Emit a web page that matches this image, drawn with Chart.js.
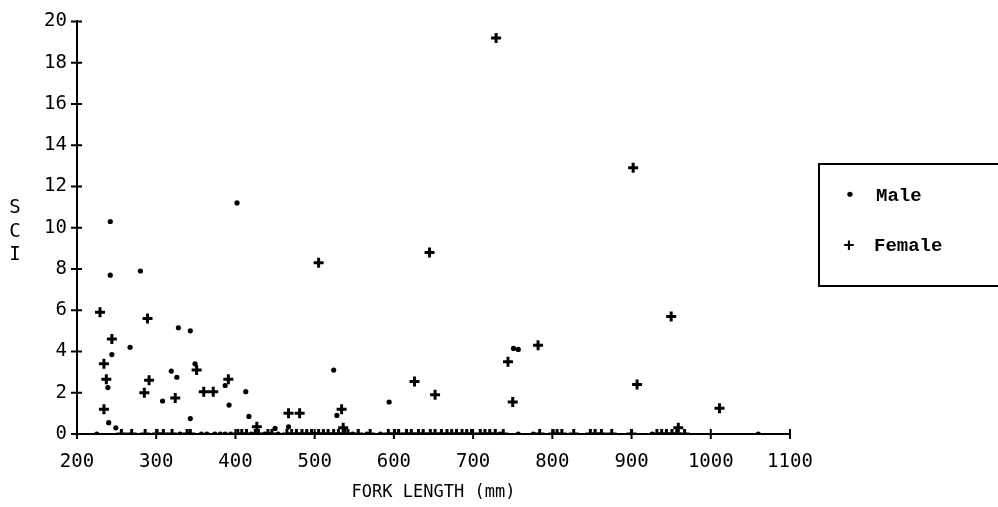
<!DOCTYPE html>
<html>
<head>
<meta charset="utf-8">
<script src="https://cdn.jsdelivr.net/npm/chart.js@4/dist/chart.umd.min.js"></script>
<style>
  html, body { margin: 0; padding: 0; background: #fff; overflow: hidden; }
  #wrap { position: relative; width: 998px; height: 507px; }
  #yTitle { position: absolute; left: 7px; top: 195px; width: 16px; font: 19px 'DejaVu Sans Mono', monospace; line-height: 23.5px; text-align: center; color: #000; }
  #legend { position: absolute; left: 818px; top: 163px; width: 200px; height: 120px; border: 2px solid #000; font: bold 19px 'Liberation Mono', monospace; color: #000; }
  .li { position: absolute; left: 0; height: 24px; line-height: 24px; }
  .mk { position: absolute; width: 12px; text-align: center; }
  .tx { position: absolute; }
</style>
</head>
<body>
<div id="wrap">
  <canvas id="c" width="998" height="507"></canvas>
  <div id="yTitle">S<br>C<br>I</div>
  <div id="legend">
    <div class="li" style="top:19px"><span class="mk" style="left:24px;">•</span><span class="tx" style="left:56px;">Male</span></div>
    <div class="li" style="top:69px"><span class="mk" style="left:23px;">+</span><span class="tx" style="left:54px;">Female</span></div>
  </div>
</div>
<script>
// ---- data ----
const maleLength = [242, 242, 280, 328, 343, 267, 244, 349, 319, 326, 239, 308, 387, 413, 392, 417, 343, 240, 249, 450, 467, 524, 528, 594, 751, 757, 402,
  225, 330, 357, 364, 374, 381, 387, 394, 420, 437, 454, 500, 548, 566, 583, 734, 757, 776, 926, 1060];
const maleSCI = [10.3, 7.7, 7.9, 5.15, 5.0, 4.2, 3.85, 3.4, 3.05, 2.75, 2.25, 1.6, 2.35, 2.05, 1.4, 0.85, 0.75, 0.55, 0.3, 0.27, 0.35, 3.1, 0.9, 1.55, 4.15, 4.1, 11.2,
  0, 0, 0, 0, 0, 0, 0, 0, 0, 0, 0, 0, 0, 0, 0, 0, 0, 0, 0, 0];
const femaleLength = [229, 289, 244, 234, 351, 237, 291, 285, 324, 360, 372, 391, 234, 427, 467, 481, 534, 536, 626, 652, 744, 782, 750, 907, 950, 1011, 959, 645, 505, 729, 902,
  256, 269, 286, 301, 309, 320, 339, 343, 403, 408, 414, 425, 429, 441, 446, 465, 471, 477, 484, 490, 496, 505, 511, 517, 524, 530, 538, 542, 555, 570, 593, 601, 606, 616, 622, 631, 637, 646, 652, 660, 667, 673, 679, 686, 692, 698, 709, 715, 721, 728, 738, 784, 801, 806, 812, 827, 848, 854, 862, 875, 900, 932, 938, 944, 951, 957, 967, 998];
const femaleSCI = [5.9, 5.6, 4.6, 3.4, 3.1, 2.65, 2.6, 2.0, 1.75, 2.05, 2.05, 2.65, 1.2, 0.35, 1.0, 1.0, 1.2, 0.3, 2.55, 1.9, 3.5, 4.3, 1.55, 2.4, 5.7, 1.25, 0.3, 8.8, 8.3, 19.2, 12.9,
  0, 0, 0, 0, 0, 0, 0, 0, 0, 0, 0, 0, 0, 0, 0, 0, 0, 0, 0, 0, 0, 0, 0, 0, 0, 0, 0, 0, 0, 0, 0, 0, 0, 0, 0, 0, 0, 0, 0, 0, 0, 0, 0, 0, 0, 0, 0, 0, 0, 0, 0, 0, 0, 0, 0, 0, 0, 0, 0, 0, 0, 0, 0, 0, 0, 0, 0];
const xTickValues = [200, 300, 400, 500, 600, 700, 800, 900, 1000, 1100];
const yTickValues = [0, 2, 4, 6, 8, 10, 12, 14, 16, 18, 20];
const xTitle = 'FORK LENGTH (mm)';

const toPts = (xs, ys) => xs.map((x, i) => ({ x: x, y: ys[i] }));

const crossTicks = {
  id: 'crossTicks',
  afterDraw(chart) {
    const ctx = chart.ctx, xs = chart.scales.x, ys = chart.scales.y;
    const ax = xs.getPixelForValue(200), ay = ys.getPixelForValue(0);
    ctx.save();
    ctx.strokeStyle = '#000';
    ctx.lineWidth = 2;
    ctx.beginPath();
    yTickValues.forEach(v => { const p = ys.getPixelForValue(v); ctx.moveTo(ax - 6, p); ctx.lineTo(ax + 5, p); });
    xTickValues.forEach(v => { const p = xs.getPixelForValue(v); ctx.moveTo(p, ay - 5); ctx.lineTo(p, ay + 5); });
    ctx.stroke();
    ctx.restore();
  }
};

new Chart(document.getElementById('c'), {
  type: 'scatter',
  data: {
    datasets: [
      { label: 'Male', data: toPts(maleLength, maleSCI), pointStyle: 'circle', pointRadius: 2.6, backgroundColor: '#000', borderColor: '#000', borderWidth: 0 },
      { label: 'Female', data: toPts(femaleLength, femaleSCI), pointStyle: 'cross', pointRadius: 5, borderColor: '#000', borderWidth: 3 }
    ]
  },
  options: {
    responsive: false,
    animation: false,
    events: [],
    layout: { padding: { top: 17, right: 208, left: 0, bottom: 0 } },
    plugins: { legend: { display: false }, tooltip: { enabled: false } },
    scales: {
      x: {
        type: 'linear', min: 200, max: 1100,
        afterBuildTicks: s => { s.ticks = xTickValues.map(v => ({ value: v })); },
        afterFit: s => { s.height = 73; },
        grid: { display: true, drawOnChartArea: false, drawTicks: false },
        border: { display: true, color: '#000', width: 2 },
        ticks: { color: '#000', padding: 17, maxRotation: 0, callback: v => String(v), font: { family: 'DejaVu Sans Mono', size: 19 } },
        title: { display: true, text: xTitle, color: '#000', font: { family: 'DejaVu Sans Mono', size: 17 }, padding: { top: 0, bottom: 4 } }
      },
      y: {
        type: 'linear', min: 0, max: 20,
        afterBuildTicks: s => { s.ticks = yTickValues.map(v => ({ value: v })); },
        afterFit: s => { s.width = 77; },
        grid: { display: true, drawOnChartArea: false, drawTicks: false },
        border: { display: true, color: '#000', width: 2 },
        ticks: { color: '#000', padding: 10, callback: v => String(v), font: { family: 'DejaVu Sans Mono', size: 19 } }
      }
    }
  },
  plugins: [crossTicks]
});
</script>
</body>
</html>
